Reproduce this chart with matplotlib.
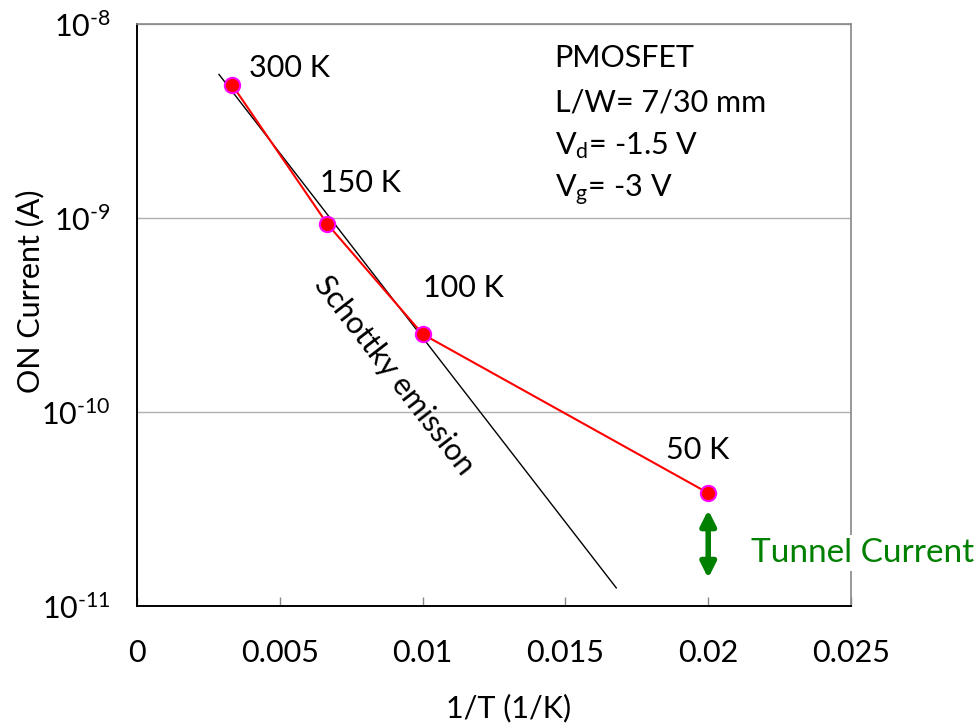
import numpy as np
import matplotlib
matplotlib.use('Agg')
import matplotlib.pyplot as plt
from matplotlib.ticker import FixedLocator, FuncFormatter

plt.rcParams['font.family'] = ['Lato', 'DejaVu Sans']
plt.rcParams['mathtext.fontset'] = 'custom'
plt.rcParams['mathtext.rm'] = 'Lato'
plt.rcParams['mathtext.it'] = 'Lato:italic'
plt.rcParams['axes.unicode_minus'] = False

# 測定データ (1/T, ON電流)
temps = [300, 150, 100, 50]
inv_t = [1 / t for t in temps]
on_current = [4.85e-9, 9.3e-10, 2.52e-10, 3.82e-11]

# ショットキー放出のフィット直線 (両端)
fit_x = [0.00287, 0.01678]
fit_y = [5.5e-9, 1.24e-11]

# トンネル電流の矢印 (上端, 下端)
tunnel_y = [3.13e-11, 1.39e-11]

x_ticks = [0, 0.005, 0.01, 0.015, 0.02, 0.025]
x_labels = ['0', '0.005', '0.01', '0.015', '0.02', '0.025']
y_ticks = [1e-11, 1e-10, 1e-9, 1e-8]

FS = 22

fig = plt.figure(figsize=(9.8, 7.28), dpi=100)
ax = fig.add_axes([0.1398, 0.1676, 0.7286, 0.7994])

ax.set_xlim(0, 0.025)
ax.set_yscale('log')
ax.set_ylim(1e-11, 1e-8)

ax.plot(fit_x, fit_y, color='black', lw=1.0, zorder=3)
ax.plot(inv_t, on_current, color='red', lw=1.5, marker='o', ms=11,
        mfc='red', mec='magenta', mew=1.5, zorder=4)

# 温度ラベル
label_pos = [(0.00392, 5.93e-9), (0.0064, 1.51e-9), (0.01003, 4.35e-10), (0.01853, 6.37e-11)]
for t, (lx, ly) in zip(temps, label_pos):
    ax.text(lx, ly, f'{t} K', fontsize=FS, ha='left', va='center', zorder=6)

ax.text(0.00902, 1.55e-10, 'Schottky emission', fontsize=FS, rotation=-52.3,
        rotation_mode='anchor', ha='center', va='center', zorder=6)

# 条件テキスト
info = ['PMOSFET', 'L/W= 7/30 mm', r'V$_\mathregular{d}$= -1.5 V', r'V$_\mathregular{g}$= -3 V']
info_y = [6.68e-9, 3.96e-9, 2.35e-9, 1.39e-9]
for s, iy in zip(info, info_y):
    ax.text(0.01462, iy, s, fontsize=FS, ha='left', va='center', zorder=6)

ax.annotate('', xy=(0.02, tunnel_y[0]), xytext=(0.02, tunnel_y[1]),
            arrowprops=dict(arrowstyle='<|-|>,head_width=0.45,head_length=0.9',
                            color='#008000', lw=4, shrinkA=0, shrinkB=0), zorder=5)
ax.text(0.0215, 1.875e-11, 'Tunnel Current', fontsize=24, color='#008000',
        ha='left', va='center', clip_on=False, zorder=10,
        bbox=dict(facecolor='white', edgecolor='none', pad=2))

# 軸
ax.xaxis.set_major_locator(FixedLocator(x_ticks))
ax.set_xticklabels(x_labels)
ax.yaxis.set_major_locator(FixedLocator(y_ticks))
ax.yaxis.set_minor_locator(FixedLocator([]))
ax.yaxis.set_major_formatter(FuncFormatter(
    lambda v, p: r'$\mathregular{10^{\text{-}%d}}$' % abs(int(round(np.log10(v))))))

ax.tick_params(axis='x', direction='in', length=6.5, width=1, color='#888888',
               labelsize=FS, pad=24)
ax.tick_params(axis='y', length=0, labelsize=FS, pad=19)
ax.grid(axis='y', which='major', color='#b0b0b0', lw=1)
ax.set_axisbelow(True)

ax.spines['left'].set_color('black')
ax.spines['left'].set_linewidth(1.4)
ax.spines['bottom'].set_color('black')
ax.spines['bottom'].set_linewidth(1.4)
ax.spines['top'].set_color('#888888')
ax.spines['top'].set_linewidth(1.2)
ax.spines['right'].set_color('#888888')
ax.spines['right'].set_linewidth(1.2)

ax.set_xlabel('1/T (1/K)', fontsize=FS)
ax.set_ylabel('ON Current (A)', fontsize=FS)
ax.xaxis.set_label_coords(0.521, -0.150)
ax.yaxis.set_label_coords(-0.130, 0.541)

fig.savefig('out.png', dpi=100)
